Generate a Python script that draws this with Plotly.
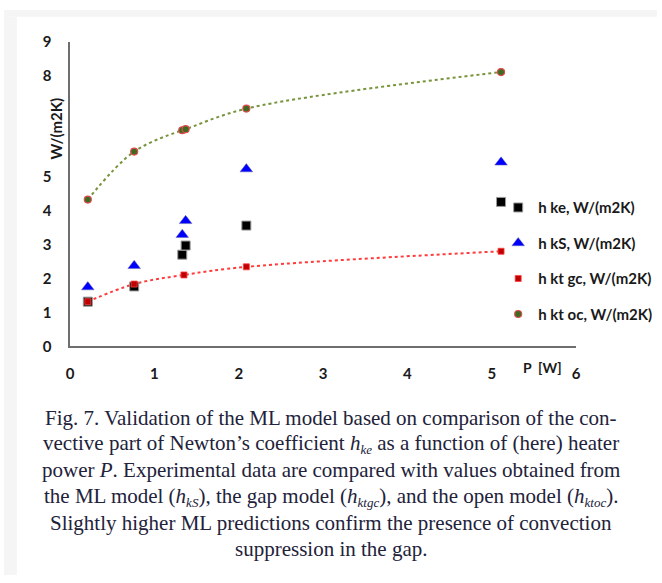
import plotly.graph_objects as go

W, H = 662, 583

# ---------------- data ----------------
power_ke = [0.21, 0.76, 1.33, 1.37, 2.09, 5.11]
h_ke = [1.32, 1.77, 2.71, 2.98, 3.57, 4.27]

power_ks = [0.21, 0.76, 1.33, 1.37, 2.09, 5.11]
h_ks = [1.75, 2.38, 3.30, 3.71, 5.24, 5.44]

power_gc = [0.21, 0.76, 1.35, 2.09, 5.11]
h_ktgc = [1.32, 1.84, 2.11, 2.35, 2.81]

power_oc = [0.21, 0.76, 1.33, 1.37, 2.09, 5.11]
h_ktoc = [4.34, 5.76, 6.39, 6.42, 7.03, 8.11]

names = ["h ke, W/(m2K)", "h kS, W/(m2K)", "h kt gc, W/(m2K)", "h kt oc, W/(m2K)"]
y_ticks = [0, 1, 2, 3, 4, 5, 8, 9]
x_ticks = [0, 1, 2, 3, 4, 5, 6]


def sub(s):
    return '<sub><span style="font-size:13px"><i>' + s + '</i></span></sub>'


caption_lines = [
    "Fig. 7. Validation of the ML model based on comparison of the con-",
    "vective part of Newton’s coefficient <i>h</i>" + sub("ke") + " as a function of (here) heater",
    "power <i>P</i>. Experimental data are compared with values obtained from",
    "the ML model (<i>h</i>" + sub("kS") + "), the gap model (<i>h</i>" + sub("ktgc")
    + "), and the open model (<i>h</i>" + sub("ktoc") + ").",
    "Slightly higher ML predictions confirm the presence of convection",
    "suppression in the gap.",
]


def px_x(p):
    return p / W


def px_y(p):
    return 1 - p / H


fig = go.Figure()

# trend lines (dotted)
fig.add_trace(go.Scatter(x=power_oc, y=h_ktoc, mode="lines", showlegend=False,
                         line=dict(color="#77933c", width=2, dash="dot", shape="spline", smoothing=1.0),
                         hoverinfo="skip"))
fig.add_trace(go.Scatter(x=power_gc, y=h_ktgc, mode="lines", showlegend=False,
                         line=dict(color="#ff3b3b", width=2, dash="dot", shape="spline", smoothing=1.0),
                         hoverinfo="skip"))

# markers
fig.add_trace(go.Scatter(x=power_ke, y=h_ke, mode="markers", name=names[0], legendgroup="a", legendrank=1,
                         marker=dict(symbol="square", size=9, color="#000000",
                                     line=dict(color="#9a9a9a", width=1))))
fig.add_trace(go.Scatter(x=power_ks, y=h_ks, mode="markers", name=names[1], legendgroup="b", legendrank=2,
                         marker=dict(symbol="triangle-up", size=11, color="#0000ff",
                                     line=dict(color="#6a6ab0", width=0.5))))
fig.add_trace(go.Scatter(x=power_gc, y=h_ktgc, mode="markers", name=names[2], legendgroup="c", legendrank=3,
                         marker=dict(symbol="square", size=6, color="#c00000",
                                     line=dict(color="#ff4040", width=0.8))))
fig.add_trace(go.Scatter(x=power_oc, y=h_ktoc, mode="markers", name=names[3], legendgroup="d", legendrank=4,
                         marker=dict(symbol="circle", size=7, color="#3e6b23",
                                     line=dict(color="#e04a4a", width=1.2))))

x0, x1 = 67, 580
y0, y1 = 33, 347

tick_font = dict(family="Lato", size=15, color="#1a1a1a", weight="bold")

fig.update_layout(
    width=W, height=H, autosize=False,
    margin=dict(l=0, r=0, t=0, b=0),
    paper_bgcolor="white", plot_bgcolor="white",
    showlegend=True,
    legend=dict(x=px_x(501), y=px_y(187), xanchor="left", yanchor="top",
                bgcolor="rgba(0,0,0,0)", borderwidth=0,
                traceorder="grouped", tracegroupgap=13,
                font=dict(family="Lato", size=15, color="#1a1a1a", weight="bold"),
                itemclick=False),
    xaxis=dict(domain=[px_x(x0), px_x(x1)], range=[0, 6], tickvals=x_ticks,
               showline=True, linecolor="#6e6e6e", linewidth=1.5,
               showgrid=False, zeroline=False, ticks="",
               tickfont=tick_font, ticklabelstandoff=13),
    yaxis=dict(domain=[px_y(y1), px_y(y0)], range=[0, 9], tickvals=y_ticks,
               showline=True, linecolor="#6e6e6e", linewidth=1.5,
               showgrid=False, zeroline=False, ticks="",
               tickfont=tick_font, ticklabelstandoff=14),
    shapes=[
        dict(type="rect", xref="paper", yref="paper", x0=0, x1=px_x(13), y0=0, y1=px_y(7),
             fillcolor="#f5f5f5", line=dict(width=0), layer="below"),
        dict(type="rect", xref="paper", yref="paper", x0=0, x1=1, y0=px_y(7), y1=1,
             fillcolor="#f5f5f5", line=dict(width=0), layer="below"),
    ],
)

annotations = [
    dict(text="W/(m2K)", x=px_x(53), y=px_y(122), xref="paper", yref="paper",
         textangle=-90, showarrow=False, xanchor="center", yanchor="middle",
         font=dict(family="Lato", size=15, color="#1a1a1a", weight="bold")),
    dict(text="P  [W]", x=px_x(546), y=px_y(369), xref="paper", yref="paper",
         showarrow=False, xanchor="center", yanchor="middle",
         font=dict(family="Lato", size=14, color="#1a1a1a", weight="bold")),
]
line_y = [421, 448, 475, 502, 529, 556]
for txt, ly in zip(caption_lines, line_y):
    annotations.append(dict(text=txt, x=px_x(331), y=px_y(ly), xref="paper", yref="paper",
                            showarrow=False, xanchor="center", yanchor="middle",
                            font=dict(family="Liberation Serif", size=21, color="#22223a")))
fig.update_layout(annotations=annotations)

fig.write_html("out.html")
